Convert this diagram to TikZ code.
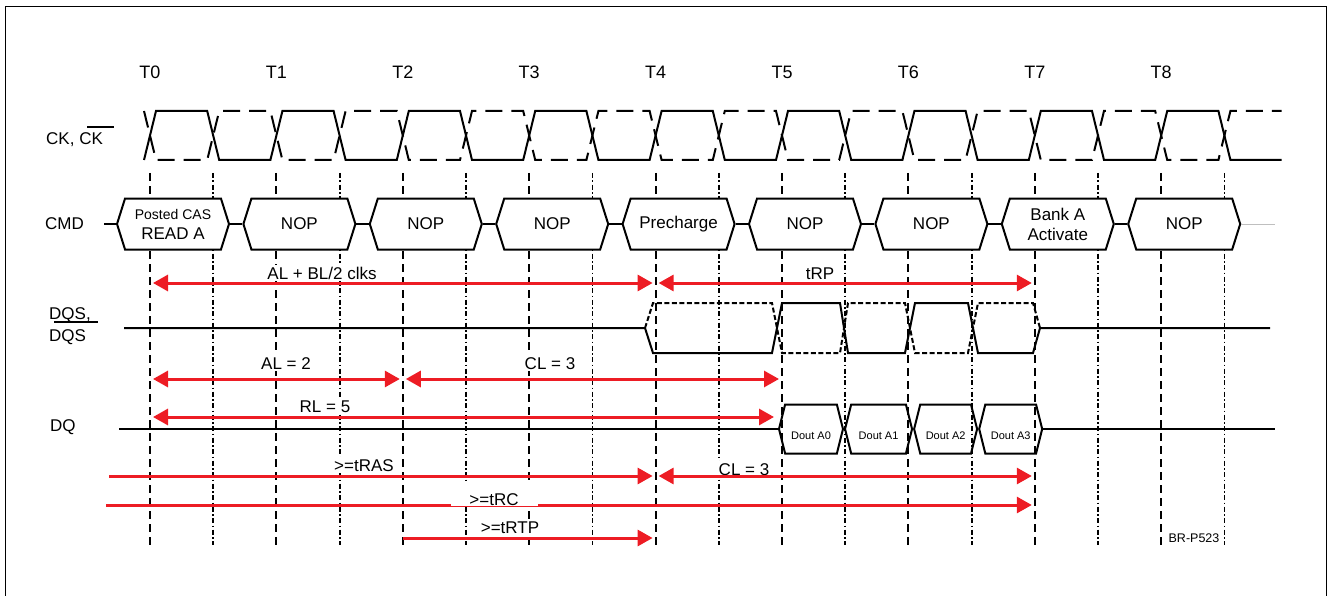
\documentclass[tikz,border=0pt]{standalone}
\usepackage{fontspec}
\setmainfont{Liberation Sans}
\usetikzlibrary{positioning}
\usetikzlibrary{arrows.meta}
\usetikzlibrary{shapes.symbols}
\definecolor{tred}{RGB}{237,28,36}
\newcommand{\sigbar}[3]{\smash{\rlap{\kern#1\rule[#3]{#2}{1.5pt}}}}

\begin{document}
\begin{tikzpicture}[x=1pt, y=-1pt,
    wave/.style={line width=2pt},
    wavedash/.style={line width=2pt, dash pattern=on 17pt off 9pt},
    strobedash/.style={line width=2pt, dash pattern=on 5pt off 2.5pt},
    edgeline/.style={line width=2pt, dash pattern=on 8pt off 5pt},
    halfline/.style={line width=1.8pt, dash pattern=on 5pt off 2.5pt on 1.5pt off 2.5pt},
    cmdbox/.style={shape=signal, signal to=west and east, signal pointer angle=145,
        draw, line width=2pt, fill=white, minimum width=112pt, minimum height=51pt,
        inner xsep=0pt, align=center, font=\fontsize{17}{20}\selectfont},
    doutbox/.style={shape=signal, signal to=west and east, signal pointer angle=152,
        draw, line width=2pt, minimum height=49pt, inner xsep=0pt,
        text height=20pt, text depth=0pt, font=\fontsize{11}{13}\selectfont},
    timing/.style={tred, line width=3pt, -{Triangle[length=15pt,width=16pt]}, shorten >=3pt},
    twoway/.style={timing, {Triangle[length=15pt,width=16pt]}-{Triangle[length=15pt,width=16pt]}, shorten <=3pt},
    tlabel/.style={fill=white, inner sep=2pt, text height=12pt, text depth=0pt, font=\fontsize{17}{19}\selectfont},
    signame/.style={anchor=west, align=left, inner sep=0pt, font=\fontsize{17}{22}\selectfont}
]
    \useasboundingbox (0,0) rectangle (1329,596);
    \draw[line width=1.3pt] (5.5,6.5) rectangle (1326.5,640);

    % Clock edges
    \foreach \i in {0,...,8} {
        \node[font=\fontsize{18}{20}\selectfont] (t\i) at (150+126.4*\i, 72) {T\i};
        \draw[edgeline] (150+126.4*\i, 173) -- (150+126.4*\i, 545);
        \draw[halfline] (213.2+126.4*\i, 173) -- (213.2+126.4*\i, 545);
    }

    % Clock
    \draw[wavedash] (144,111) \foreach \k [evaluate=\k as \cx using 150+63.2*\k,
        evaluate=\k as \cy using 160-49*(\k-2*floor(\k/2))] in {0,...,17} {
        -- (\cx+6,\cy) -- (\cx+57.2,\cy) };
    \draw[wave] (144,160) \foreach \k [evaluate=\k as \cx using 150+63.2*\k,
        evaluate=\k as \cy using 111+49*(\k-2*floor(\k/2))] in {0,...,17} {
        -- (\cx+6,\cy) -- (\cx+57.2,\cy) };

    % Signal names
    \node[signame] (ck) at (46,140) {CK, \sigbar{8pt}{27pt}{17pt}CK};
    \node[signame] (cmd) at (45,224) {CMD};
    \node[signame] (dqs) at (49,326.5) {DQS,\\\sigbar{5pt}{44pt}{19pt}DQS};
    \node[signame] (dq) at (50,427) {DQ};

    % Command bus
    \coordinate (cmdin) at (104,224);
    \coordinate (cmdout) at (1275,224);
    \foreach \i/\txt in {0/{{\fontsize{14}{16}\selectfont Posted CAS}\\READ A},
                         1/NOP, 2/NOP, 3/NOP, 4/Precharge, 5/NOP, 6/NOP,
                         7/{Bank A\\Activate}, 8/NOP} {
        \node[cmdbox] (c\i) at (173+126.4*\i, 224) {\txt};
    }
    \draw[wave] (cmdin) -- (c0.west);
    \foreach \i [count=\j] in {0,...,7}
        \draw[wave] (c\i.east) -- (c\j.west);
    \draw[gray!50, thin] (c8.east) -- (cmdout);

    % Data strobe
    \draw[strobedash] (645,328) -- (653,303) -- (772,303) -- (782,353) -- (840,353)
        -- (848,303) -- (905,303) -- (915,353) -- (968,353) -- (978,303)
        -- (1033,303) -- (1040,328);
    \draw[wave] (124,328) -- (645,328) -- (653,353) -- (772,353) -- (782,303)
        -- (840,303) -- (848,353) -- (905,353) -- (915,303) -- (968,303)
        -- (978,353) -- (1033,353) -- (1040,328) -- (1270,328);

    % Data out
    \coordinate (dqin) at (119,429);
    \coordinate (dqout) at (1275,429);
    \node[doutbox, minimum width=64pt] (d0) at (811,429) {Dout A0};
    \node[doutbox, minimum width=67pt, right=0pt of d0] (d1) {Dout A1};
    \node[doutbox, minimum width=63pt, right=0pt of d1] (d2) {Dout A2};
    \node[doutbox, minimum width=63pt, right=0pt of d2] (d3) {Dout A3};
    \draw[wave] (dqin) -- (d0.west);
    \draw[wave] (d3.east) -- (dqout);

    % Timing
    \coordinate (ra) at (0,283);
    \coordinate (rb) at (0,379);
    \coordinate (rc) at (0,417);
    \coordinate (rd) at (0,476);
    \coordinate (re) at (0,505);
    \coordinate (rf) at (0,538);
    \coordinate (sras) at (109,476);
    \coordinate (src) at (106,505);
    \node[tlabel] (lclk) at (322,273) {AL + BL/2 clks};
    \node[tlabel] (ltrp) at (820,273) {tRP};
    \node[tlabel] (lal) at (286,363) {AL = 2};
    \node[tlabel] (lcl) at (550,363) {CL = 3};
    \node[tlabel] (lrl) at (325,406) {RL = 5};
    \node[tlabel] (lras) at (364,465) {>=tRAS};
    \node[tlabel] (lcl2) at (744,469) {CL = 3};
    \node[tlabel] (lrtp) at (510,527) {>=tRTP};
    \draw[twoway] (t0 |- ra) -- (t4 |- ra);
    \draw[twoway] (t4 |- ra) -- (t7 |- ra);
    \draw[twoway] (t0 |- rb) -- (t2 |- rb);
    \draw[twoway] (t2 |- rb) -- (t5 |- rb);
    \draw[twoway, shorten >=8pt] (t0 |- rc) -- (t5 |- rc);
    \draw[timing] (sras) -- (t4 |- rd);
    \draw[twoway] (t4 |- rd) -- (t7 |- rd);
    \draw[timing] (src) -- (t7 |- re);
    \draw[timing] (t2 |- rf) -- (t4 |- rf);
    \node[tlabel, anchor=base, text height=22pt, inner ysep=0.5pt, minimum width=87pt] (lrc) at (494,505) {>=tRC};

    \node[font=\fontsize{12.5}{14}\selectfont] (brid) at (1194,538.5) {BR-P523};
\end{tikzpicture}
\end{document}
